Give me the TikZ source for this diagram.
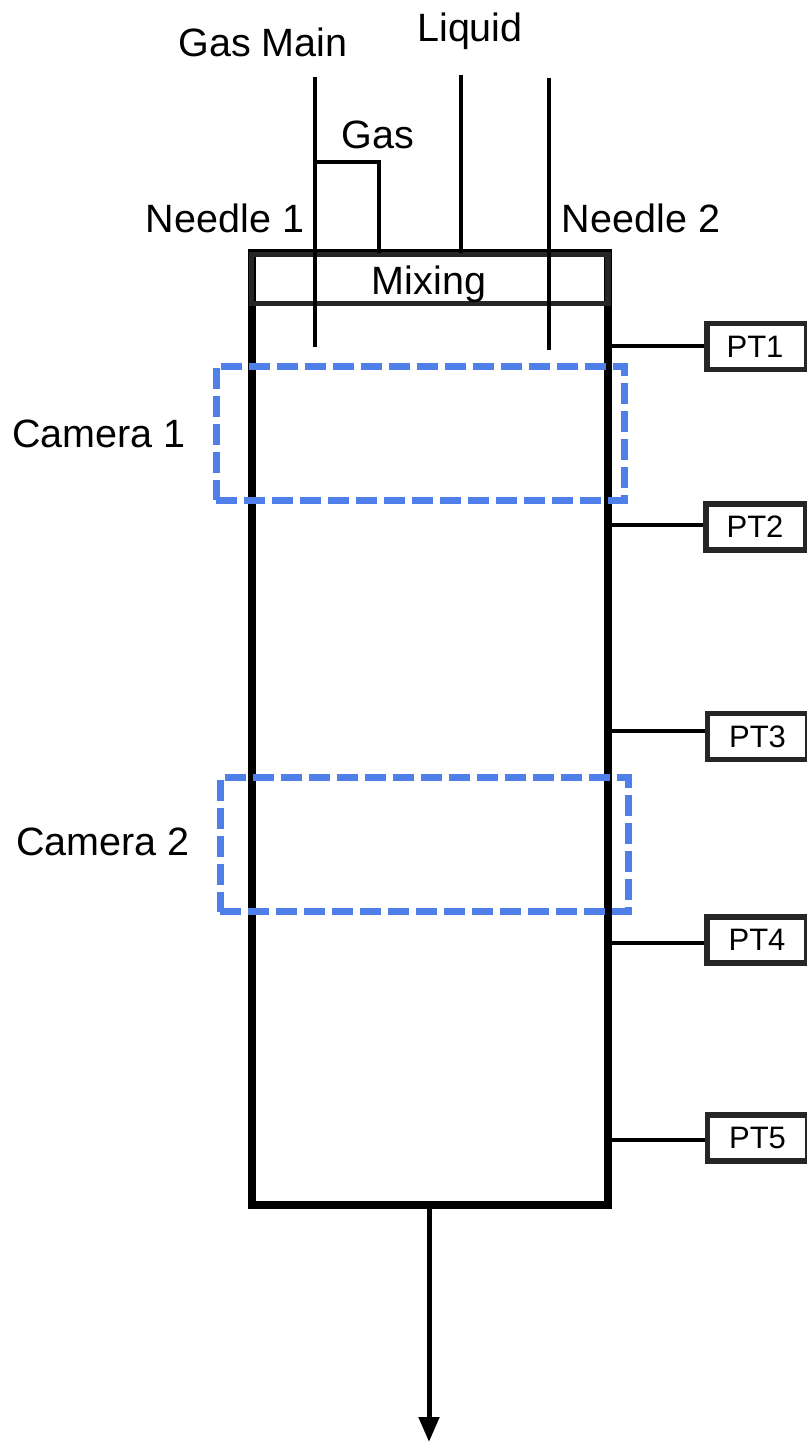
\documentclass[tikz,border=0pt]{standalone}
\usepackage{fontspec}
\setmainfont{Liberation Sans}
\usetikzlibrary{arrows.meta}
\definecolor{camblue}{HTML}{4F7FE8}
\definecolor{mixgray}{HTML}{262626}
\tikzset{
  x=1pt,y=-1pt,
  label text/.style={inner sep=0pt,font=\fontsize{39.5}{39.5}\selectfont,anchor=base},
  vessel/.style={draw=black,line width=8pt,line join=miter,fill=none,inner sep=0pt,minimum width=356.5pt,minimum height=952pt},
  mixbox/.style={draw=mixgray,line width=5.5pt,inner sep=0pt,minimum width=356.5pt,minimum height=49pt},
  pipe/.style={draw=black,line width=4.5pt},
  camera/.style={draw=camblue,line width=7pt,dash pattern=on 21pt off 7pt,inner sep=0pt,minimum width=408pt,minimum height=134pt},
  ptbox/.style={draw=black!85,line width=5.5pt,fill=white,inner sep=0pt,minimum width=100pt,minimum height=46pt,font=\fontsize{31}{31}\selectfont},
  outflow/.style={draw=black,line width=5pt,-{Triangle[length=25pt,width=20pt]}},
}
\begin{document}
\begin{tikzpicture}
\useasboundingbox (0,0) rectangle (806,1442);
% vessel
\node[vessel] (vessel) at (429.75,729) {};
\node[mixbox] (mix) at (429.75,279) {};
% inlet tubes
\coordinate (mainTop) at (315,77);
\coordinate (mainEnd) at (315,347);
\coordinate (liqTop) at (461,75);
\coordinate (liqEnd) at (461,253);
\coordinate (n2Top) at (549,78);
\coordinate (n2End) at (549,350);
\coordinate (gasJoin) at (315,162);
\coordinate (gasCorner) at (379,162);
\coordinate (gasEnd) at (379,253);
\draw[pipe] (mainTop) -- (mainEnd);
\draw[pipe] (liqTop) -- (liqEnd);
\draw[pipe] (n2Top) -- (n2End);
\draw[pipe,line join=miter] (gasJoin) -- (gasCorner) -- (gasEnd);
% cameras
\node[camera] (cam1) at (420,433) {};
\node[camera] (cam2) at (424,844.5) {};
% PT boxes
\node[ptbox] (pt1) at (757,346.5) {\hspace{-4pt}PT1};
\node[ptbox] (pt2) at (756,527) {\hspace{-2pt}PT2};
\node[ptbox] (pt3) at (757.5,736.5) {PT3};
\node[ptbox] (pt4) at (757,940) {PT4};
\node[ptbox] (pt5) at (757.5,1138) {PT5};
\coordinate (w1) at (612,346);
\coordinate (w2) at (612,525);
\coordinate (w3) at (612,731);
\coordinate (w4) at (612,943);
\coordinate (w5) at (612,1140);
\draw[pipe] (w1) -- (w1 -| pt1.west);
\draw[pipe] (w2) -- (w2 -| pt2.west);
\draw[pipe] (w3) -- (w3 -| pt3.west);
\draw[pipe] (w4) -- (w4 -| pt4.west);
\draw[pipe] (w5) -- (w5 -| pt5.west);
% outlet
\coordinate (outEnd) at (429,1442);
\draw[outflow] (vessel.south -| outEnd) -- (outEnd);
% labels
\node[label text] (lgm) at (263,57) {Gas Main};
\node[label text] (lliq) at (470,42) {Liquid};
\node[label text] (lgas) at (378,149) {Gas};
\node[label text] (ln1) at (225,233) {Needle 1};
\node[label text] (ln2) at (641,233) {Needle 2};
\node[label text] (lmix) at (429,294) {Mixing};
\node[label text] (lc1) at (99,447) {Camera 1};
\node[label text] (lc2) at (103,855) {Camera 2};
\end{tikzpicture}
\end{document}
